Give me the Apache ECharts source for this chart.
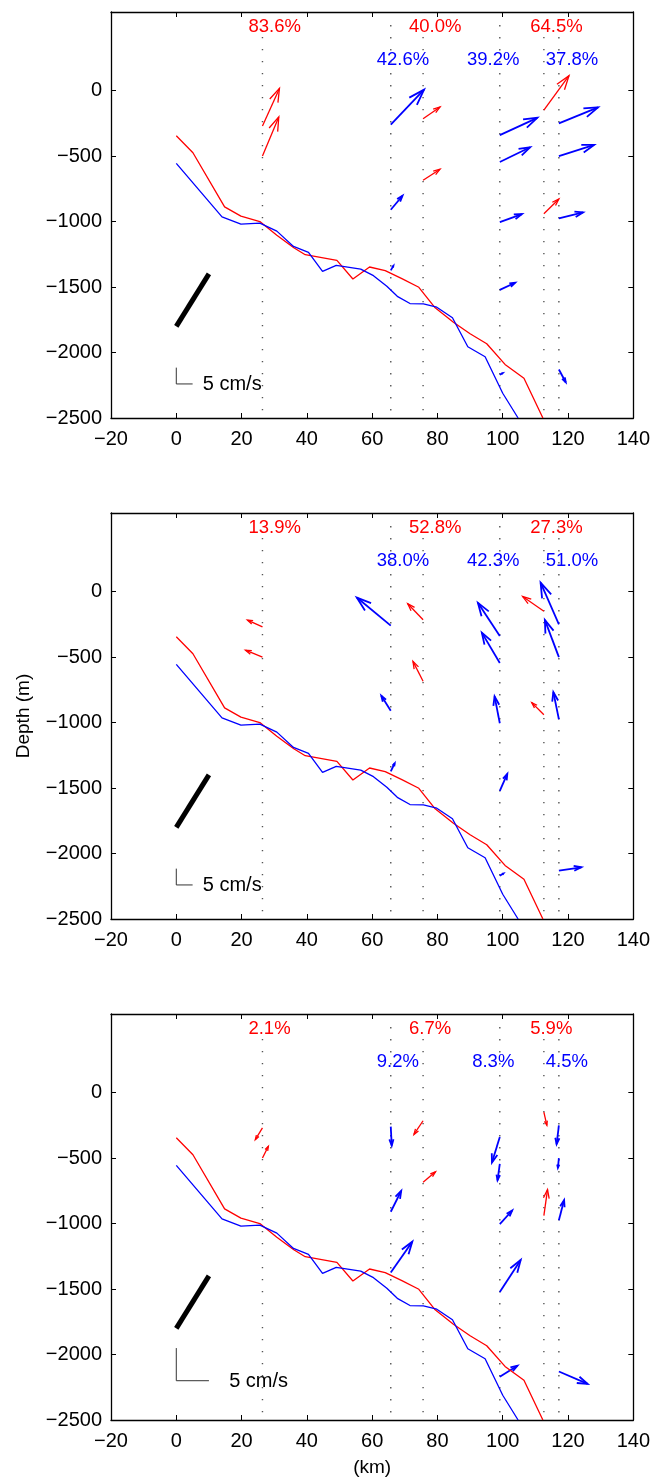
<!DOCTYPE html>
<html>
<head>
<meta charset="utf-8">
<title>Mooring currents over the slope</title>
<script src="https://cdn.jsdelivr.net/npm/echarts@6/dist/echarts.min.js"></script>
<style>
  html, body { margin: 0; padding: 0; background: #fff; }
  #chart { width: 653px; height: 1480px; }
</style>
</head>
<body>
<div id="chart"></div>
<script>
// ---- Bathymetry sections (km along section, depth in m) ----
const redBathyKm    = [0, 5.1, 14.8, 19.8, 25.6, 30.8, 36.0, 39.5, 49.2, 54.1, 59.2, 64.0, 69.1, 74.3, 79.3, 84.9, 90.0, 95.1, 100.7, 106.5, 112.3];
const redBathyDepth = [-345, -475, -888, -959, -1000, -1105, -1200, -1253, -1297, -1439, -1347, -1375, -1436, -1502, -1659, -1769, -1857, -1933, -2091, -2197, -2500];
const blueBathyKm    = [0, 14.0, 19.8, 25.6, 30.8, 35.9, 40.5, 44.8, 49.0, 56.5, 60.4, 64.5, 67.7, 71.6, 75.7, 79.8, 84.6, 89.3, 94.6, 100.0, 104.7];
const blueBathyDepth = [-556, -964, -1020, -1012, -1073, -1190, -1236, -1380, -1335, -1363, -1413, -1494, -1571, -1626, -1629, -1654, -1735, -1956, -2032, -2311, -2500];

// ---- Moorings: position (km) and instrument depths (m) ----
const redMooringKm = [26.4, 75.6, 112.6];
const blueMooringKm = [65.7, 99.1, 117.2];
const redInstrDepth = [[-270, -500], [-215, -685], [-150, -940]];
const blueInstrDepth = [[-260, -910, -1373], [-340, -545, -1005, -1522, -2170], [-250, -500, -975, -2130]];
const redMooringTop = 410;
const blueMooringTop = 500;

// ---- Velocity vectors [u, v] in cm/s, one list per mooring, one block per panel ----
const redVel = [
  [[[5.2, 11.5], [5.0, 12.0]], [[5.2, 3.6], [5.2, 3.4]], [[7.7, 10.6], [4.6, 4.5]]],
  [[[-4.6, 2.1], [-5.2, 2.1]], [[-4.7, 4.9], [-3.1, 6.1]], [[-6.5, 4.5], [-3.7, 3.7]]],
  [[[-1.1, -1.8], [0.9, 1.8]], [[-1.4, -2.1], [1.9, 1.6]], [[0.46, -2.0], [0.56, 4.0]]]
];
const blueVel = [
  [[[10.2, 10.7], [3.6, 4.3], [0.8, 1.4]],
   [[11.5, 5.3], [9.3, 4.5], [6.8, 2.5], [4.7, 2.2], [0.9, 0.5]],
   [[12.0, 4.9], [10.8, 3.4], [7.4, 1.8], [2.1, -3.9]]],
  [[[-10.4, 8.6], [-2.9, 4.6], [1.2, 2.5]],
   [[-6.7, 10.2], [-5.5, 9.3], [-1.6, 8.2], [2.3, 5.2], [1.1, 0.7]],
   [[-5.6, 12.8], [-4.3, 11.4], [-1.7, 8.3], [6.9, 1.0]]],
  [[[0.15, -2.9], [1.6, 3.2], [3.3, 4.7]],
   [[-1.2, -3.9], [-0.35, -2.5], [1.9, 2.1], [3.2, 4.9], [2.7, 1.7]],
   [[-0.35, -2.9], [-0.15, -1.5], [0.8, 3.1], [4.4, -1.9]]]
];

// ---- Percentages written above each mooring ----
const redPct = [['83.6%', '40.0%', '64.5%'], ['13.9%', '52.8%', '27.3%'], ['2.1%', '6.7%', '5.9%']];
const bluePct = [['42.6%', '39.2%', '37.8%'], ['38.0%', '42.3%', '51.0%'], ['9.2%', '8.3%', '4.5%']];
const redPctKm = [22.1, 71.3, 108.4];
const bluePctKm = [61.4, 97.1, 113.2];
const bluePctAlign = ['left', 'center', 'left'];
const redPctDepth = 490;
const bluePctDepth = 237;

// ---- Reference direction bar and velocity scale ----
const dirBar = [[0, -1800], [10, -1400]];
const scaleCorner = [[0, -2240], [0, -2240], [0, -2200]];
const scaleSpeed = 5;             // cm/s shown by the scale
const scaleText = '5 cm/s';
const kmPerCms = [1, 1, 2];        // arrow length: km of x-axis per cm/s

// ---- Axes ----
const xMin = -20, xMax = 140, xStep = 20;
const yMin = -2500, yMax = 600, yStep = 500;
const yTicks = [-2500, -2000, -1500, -1000, -500, 0];

const FONT = "'Liberation Sans', Arial, Helvetica, sans-serif";
const RED = '#ff0000', BLUE = '#0000ff';
const TICK_FONT = 20;
const gridTops = [12, 513, 1014];

const minusFmt = v => String(v).replace('-', '\u2212');

function arrowItem(color, lw, scaleKm) {
  return function (params, api) {
    const p = api.coord([api.value(0), api.value(1)]);
    const s = api.size([scaleKm, 0])[0];
    const du = api.value(2) * s;
    const dv = -api.value(3) * s;
    const tip = [p[0] + du, p[1] + dv];
    const a = 0.33, b = 0.33;
    const h1 = [tip[0] - a * (du + b * dv), tip[1] - a * (dv - b * du)];
    const h2 = [tip[0] - a * (du - b * dv), tip[1] - a * (dv + b * du)];
    const st = { stroke: color, lineWidth: lw, fill: 'none' };
    return {
      type: 'group',
      children: [
        { type: 'polyline', shape: { points: [p, tip] }, style: st },
        { type: 'polyline', shape: { points: [h1, tip, h2] }, style: st }
      ]
    };
  };
}

function mooringLine(params, api) {
  const a = api.coord([api.value(0), api.value(1)]);
  const b = api.coord([api.value(0), yMin]);
  return {
    type: 'line',
    shape: { x1: a[0], y1: a[1], x2: b[0], y2: b[1] },
    style: { stroke: '#555', lineWidth: 1.4, lineDash: [1.4, 10.6] }
  };
}

function textItem(texts, aligns, color) {
  return function (params, api) {
    const p = api.coord([api.value(0), api.value(1)]);
    const i = params.dataIndex;
    return {
      type: 'text', x: p[0], y: p[1],
      style: {
        text: texts[i], fill: color, fontSize: 18.5, fontFamily: FONT,
        align: aligns[i], verticalAlign: 'middle'
      }
    };
  };
}

function scaleItem(scaleKm) {
  return function (params, api) {
    const c = api.coord([api.value(0), api.value(1)]);
    const leg = api.size([scaleKm * scaleSpeed, 0])[0];
    return {
      type: 'group',
      children: [
        { type: 'polyline', shape: { points: [[c[0], c[1] - leg], c, [c[0] + leg, c[1]]] },
          style: { stroke: '#333', lineWidth: 1, fill: 'none' } },
        { type: 'text', x: c[0] + leg * 1.62, y: c[1] + 1,
          style: { text: scaleText, fill: '#000', fontSize: 20, fontFamily: FONT, align: 'left', verticalAlign: 'middle' } }
      ]
    };
  };
}

const grids = [], xAxes = [], yAxes = [], series = [];
const axisLine = { show: true, onZero: false, lineStyle: { color: '#000', width: 1.3 } };
const axisTick = { show: true, inside: true, length: 5, lineStyle: { color: '#000', width: 1 } };

for (let p = 0; p < 3; p++) {
  grids.push({ left: 111, top: gridTops[p], width: 523, height: 406 });
  const xb = {
    gridIndex: p, type: 'value', min: xMin, max: xMax, interval: xStep, position: 'bottom',
    axisLine, axisTick, splitLine: { show: false },
    axisLabel: { color: '#000', fontSize: TICK_FONT, fontFamily: FONT, margin: 11, formatter: minusFmt }
  };
  if (p === 2) {
    Object.assign(xb, {
      name: '(km)', nameLocation: 'middle', nameGap: 38,
      nameTextStyle: { color: '#000', fontSize: 19, fontFamily: FONT }
    });
  }
  xAxes.push(xb);
  xAxes.push({
    gridIndex: p, type: 'value', min: xMin, max: xMax, interval: xStep, position: 'top',
    axisLine, axisTick, splitLine: { show: false }, axisLabel: { show: false }
  });
  const yl = {
    gridIndex: p, type: 'value', min: yMin, max: yMax, interval: yStep, position: 'left',
    axisLine, splitLine: { show: false },
    axisTick: Object.assign({ customValues: yTicks }, axisTick),
    axisLabel: { color: '#000', fontSize: TICK_FONT, fontFamily: FONT, margin: 9, formatter: minusFmt, customValues: yTicks }
  };
  if (p === 1) {
    Object.assign(yl, {
      name: 'Depth (m)', nameLocation: 'middle', nameGap: 78,
      nameTextStyle: { color: '#000', fontSize: 19, fontFamily: FONT }
    });
  }
  yAxes.push(yl);
  yAxes.push({
    gridIndex: p, type: 'value', min: yMin, max: yMax, interval: yStep, position: 'right',
    axisLine, splitLine: { show: false }, axisLabel: { show: false },
    axisTick: Object.assign({ customValues: yTicks }, axisTick)
  });

  const xi = 2 * p, yi = 2 * p;
  const common = { xAxisIndex: xi, yAxisIndex: yi, silent: true, animation: false };

  // mooring positions (dotted)
  series.push(Object.assign({
    type: 'custom', renderItem: mooringLine, encode: { x: 0, y: 1 },
    data: redMooringKm.map(k => [k, redMooringTop])
  }, common));
  series.push(Object.assign({
    type: 'custom', renderItem: mooringLine, encode: { x: 0, y: 1 },
    data: blueMooringKm.map(k => [k, blueMooringTop])
  }, common));

  // bottom profiles
  series.push(Object.assign({
    type: 'line', showSymbol: false, symbol: 'none',
    lineStyle: { color: RED, width: 1.3 },
    data: redBathyKm.map((k, i) => [k, redBathyDepth[i]])
  }, common));
  series.push(Object.assign({
    type: 'line', showSymbol: false, symbol: 'none',
    lineStyle: { color: BLUE, width: 1.3 },
    data: blueBathyKm.map((k, i) => [k, blueBathyDepth[i]])
  }, common));

  // direction bar
  series.push(Object.assign({
    type: 'line', showSymbol: false, symbol: 'none',
    lineStyle: { color: '#000', width: 5, cap: 'butt' },
    data: dirBar
  }, common));

  // velocity vectors
  const redData = [], blueData = [];
  redMooringKm.forEach((k, i) => redInstrDepth[i].forEach((d, j) => {
    redData.push([k, d, redVel[p][i][j][0], redVel[p][i][j][1]]);
  }));
  blueMooringKm.forEach((k, i) => blueInstrDepth[i].forEach((d, j) => {
    blueData.push([k, d, blueVel[p][i][j][0], blueVel[p][i][j][1]]);
  }));
  series.push(Object.assign({
    type: 'custom', renderItem: arrowItem(RED, 1.3, kmPerCms[p]), encode: { x: 0, y: 1 }, data: redData
  }, common));
  series.push(Object.assign({
    type: 'custom', renderItem: arrowItem(BLUE, 1.8, kmPerCms[p]), encode: { x: 0, y: 1 }, data: blueData
  }, common));

  // velocity scale
  series.push(Object.assign({
    type: 'custom', renderItem: scaleItem(kmPerCms[p]), encode: { x: 0, y: 1 }, data: [scaleCorner[p]]
  }, common));

  // percentages
  series.push(Object.assign({
    type: 'custom', renderItem: textItem(redPct[p], ['left', 'left', 'left'], RED), encode: { x: 0, y: 1 },
    data: redPctKm.map(k => [k, redPctDepth])
  }, common));
  series.push(Object.assign({
    type: 'custom', renderItem: textItem(bluePct[p], bluePctAlign, BLUE), encode: { x: 0, y: 1 },
    data: bluePctKm.map(k => [k, bluePctDepth])
  }, common));
}

const chart = echarts.init(document.getElementById('chart'), null, { renderer: 'canvas' });
chart.setOption({
  backgroundColor: '#fff',
  animation: false,
  grid: grids,
  xAxis: xAxes,
  yAxis: yAxes,
  series: series
});
</script>
</body>
</html>
